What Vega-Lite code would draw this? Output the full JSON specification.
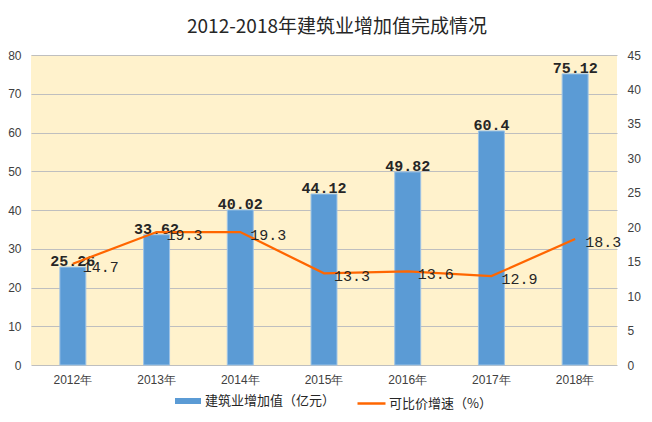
{
  "$schema": "https://vega.github.io/schema/vega-lite/v6.json",
  "width": 586,
  "height": 310,
  "autosize": {"type": "none"},
  "padding": {"left": 31, "top": 55, "right": 35, "bottom": 57},
  "background": "#ffffff",
  "title": {
    "text": "2012-2018年建筑业增加值完成情况",
    "font": "Noto Sans CJK SC",
    "fontSize": 19,
    "fontWeight": "normal",
    "color": "#262626",
    "anchor": "middle",
    "offset": 12,
    "dx": 13
  },
  "config": {
    "view": {"fill": "#FFF2CC", "stroke": null},
    "axis": {
      "labelFont": "Liberation Sans",
      "labelFontSize": 12,
      "labelColor": "#404040",
      "domain": false,
      "ticks": false,
      "labelOverlap": false
    },
    "legend": {
      "labelFont": "Noto Sans CJK SC",
      "labelFontSize": 13,
      "labelColor": "#262626"
    }
  },
  "data": {
    "values": [
      {"year": "2012年", "value": 25.26, "growth": 14.7},
      {"year": "2013年", "value": 33.62, "growth": 19.3},
      {"year": "2014年", "value": 40.02, "growth": 19.3},
      {"year": "2015年", "value": 44.12, "growth": 13.3},
      {"year": "2016年", "value": 49.82, "growth": 13.6},
      {"year": "2017年", "value": 60.4, "growth": 12.9},
      {"year": "2018年", "value": 75.12, "growth": 18.3}
    ]
  },
  "encoding": {
    "x": {
      "field": "year",
      "type": "nominal",
      "scale": {"paddingInner": 0.69, "paddingOuter": 0.345},
      "axis": {"labelAngle": 0, "labelPadding": 9, "title": null, "grid": false}
    }
  },
  "layer": [
    {
      "encoding": {
        "y": {
          "field": "value",
          "type": "quantitative",
          "scale": {"domain": [0, 80]},
          "axis": {"title": null, "values": [0,10,20,30,40,50,60,70,80], "grid": true, "gridColor": "#BFBFBF", "labelPadding": 10, "labelOverlap": false}
        }
      },
      "layer": [
        {
          "mark": {"type": "bar", "stroke": "#9DC3E6", "strokeWidth": 1},
          "encoding": {
            "fill": {
              "datum": "建筑业增加值（亿元）",
              "type": "nominal",
              "scale": {"range": ["#5B9BD5"]},
              "legend": {
                "title": null,
                "orient": "none",
                "legendX": 144,
                "legendY": 333,
                "symbolType": "M-1,-0.23H1V0.23H-1Z",
                "symbolSize": 676,
                "symbolStrokeWidth": 0,
                "labelOffset": 4
              }
            }
          }
        },
        {
          "mark": {"type": "text", "dy": -6, "font": "Liberation Mono", "fontSize": 15, "fontWeight": "bold", "color": "#262626"},
          "encoding": {
            "text": {"field": "value", "type": "nominal"}
          }
        }
      ]
    },
    {
      "encoding": {
        "y": {
          "field": "growth",
          "type": "quantitative",
          "scale": {"domain": [0, 45]},
          "axis": {"title": null, "orient": "right", "values": [0,5,10,15,20,25,30,35,40,45], "grid": false, "labelPadding": 10, "labelOverlap": false}
        }
      },
      "layer": [
        {
          "mark": {"type": "line", "strokeWidth": 2.25},
          "encoding": {
            "stroke": {
              "datum": "可比价增速（%）",
              "type": "nominal",
              "scale": {"range": ["#FF6600"]},
              "legend": {
                "title": null,
                "orient": "none",
                "legendX": 325,
                "legendY": 333,
                "symbolType": "stroke",
                "symbolSize": 784,
                "symbolStrokeWidth": 2.5,
                "labelOffset": 2
              }
            }
          }
        },
        {
          "mark": {"type": "text", "align": "left", "dx": 10, "dy": 3, "font": "Liberation Mono", "fontSize": 15, "color": "#262626"},
          "encoding": {
            "text": {"field": "growth", "type": "nominal"}
          }
        }
      ]
    }
  ],
  "resolve": {"scale": {"y": "independent"}}
}
